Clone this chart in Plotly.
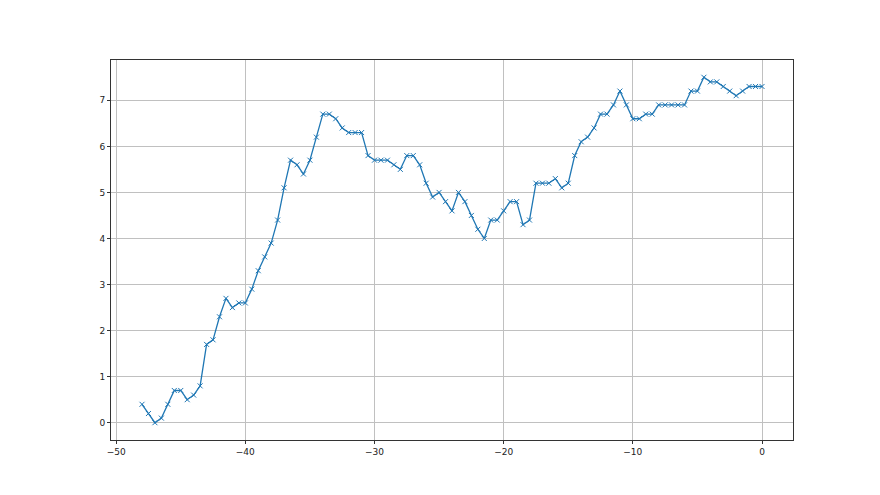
import numpy as np
import plotly.graph_objects as go

x_values = [i * 0.5 for i in range(-96, 1)]
y_values = [
    0.4, 0.2, 0.0, 0.1, 0.4, 0.7, 0.7, 0.5, 0.6, 0.8,
    1.7, 1.8, 2.3, 2.7, 2.5, 2.6, 2.6, 2.9, 3.3, 3.6,
    3.9, 4.4, 5.1, 5.7, 5.6, 5.4, 5.7, 6.2, 6.7, 6.7,
    6.6, 6.4, 6.3, 6.3, 6.3, 5.8, 5.7, 5.7, 5.7, 5.6,
    5.5, 5.8, 5.8, 5.6, 5.2, 4.9, 5.0, 4.8, 4.6, 5.0,
    4.8, 4.5, 4.2, 4.0, 4.4, 4.4, 4.6, 4.8, 4.8, 4.3,
    4.4, 5.2, 5.2, 5.2, 5.3, 5.1, 5.2, 5.8, 6.1, 6.2,
    6.4, 6.7, 6.7, 6.9, 7.2, 6.9, 6.6, 6.6, 6.7, 6.7,
    6.9, 6.9, 6.9, 6.9, 6.9, 7.2, 7.2, 7.5, 7.4, 7.4,
    7.3, 7.2, 7.1, 7.2, 7.3, 7.3, 7.3,
]
x_ticks = [-50, -40, -30, -20, -10, 0]
y_ticks = [0, 1, 2, 3, 4, 5, 6, 7]

fig = go.Figure()
fig.add_trace(go.Scatter(
    x=x_values, y=y_values, mode="lines+markers",
    line=dict(color="#1f77b4", width=1.3),
    marker=dict(symbol="x-thin", size=5, line=dict(color="#1f77b4", width=1)),
    showlegend=False,
))

axis_common = dict(
    showgrid=True, gridcolor="#c0c0c0", gridwidth=0.7,
    showline=True, linecolor="#333333", linewidth=1, mirror=True,
    ticks="outside", ticklen=3, tickcolor="#333333", tickwidth=1,
    zeroline=False,
    tickfont=dict(family="DejaVu Sans", size=9, color="#222222"),
)
fig.update_xaxes(range=[-50.4, 2.4], tickvals=x_ticks,
                 ticktext=[str(v).replace("-", "\u2212") for v in x_ticks],
                 **axis_common)
fig.update_yaxes(range=[-0.375, 7.875], tickvals=y_ticks,
                 ticktext=[str(v) for v in y_ticks], **axis_common)
fig.update_layout(
    width=880, height=495,
    margin=dict(l=103, r=95, t=52, b=63),
    paper_bgcolor="white", plot_bgcolor="white",
)
fig.write_html("out.html")
